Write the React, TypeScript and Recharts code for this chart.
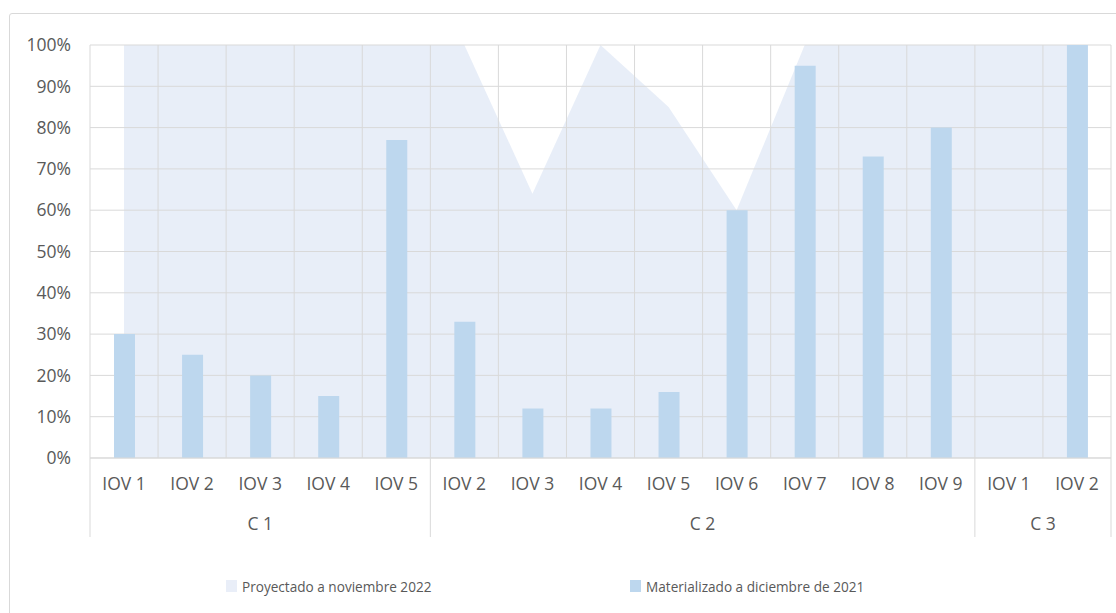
import { ComposedChart, Area, Bar, XAxis, YAxis, CartesianGrid } from "recharts";

const groups = ["C 1", "C 2", "C 3"];
const groupSizes = [5, 8, 2];
const categories = [
  "IOV 1", "IOV 2", "IOV 3", "IOV 4", "IOV 5",
  "IOV 2", "IOV 3", "IOV 4", "IOV 5", "IOV 6", "IOV 7", "IOV 8", "IOV 9",
  "IOV 1", "IOV 2",
];
const projected = [100, 100, 100, 100, 100, 100, 64, 100, 85, 60, 100, 100, 100, 100, 100];
const materialized = [30, 25, 20, 15, 77, 33, 12, 12, 16, 60, 95, 73, 80, 0, 100];
const yTicks = [0, 10, 20, 30, 40, 50, 60, 70, 80, 90, 100];

const projName = "Proyectado a noviembre 2022";
const matName = "Materializado a diciembre de 2021";

const data = categories.map((name, i) => ({
  key: i,
  name,
  proj: projected[i],
  mat: materialized[i],
}));

const n = categories.length;
// first index of each group
const starts = [0];
groupSizes.forEach((s, i) => starts.push(starts[i] + s));

const FONT = "'Open Sans', 'Noto Sans', sans-serif";
const TEXT = "#595959";
const GRID = "#d9d9d9";
const AREA = "#4472c4";
const AREA_SWATCH = "#e9eef8";
const BAR = "#bdd7ee";

const GroupTick = (props: any) => {
  const { x, y, payload, width } = props;
  const i = payload.value;
  const bw = (width || 1021) / n;
  const gi = starts.indexOf(i);
  const items = [];
  if (gi >= 0 && gi < groups.length) {
    items.push(<line key="l" x1={x - bw / 2} x2={x - bw / 2} y1={y - 40} y2={y + 39} stroke={GRID} />);
    items.push(
      <text key="t" x={x + ((groupSizes[gi] - 1) * bw) / 2} y={y + 32} textAnchor="middle" fontSize={17.5} fill={TEXT} fontFamily={FONT}>
        {groups[gi]}
      </text>
    );
  }
  if (i === n - 1) {
    items.push(<line key="r" x1={x + bw / 2} x2={x + bw / 2} y1={y - 40} y2={y + 39} stroke={GRID} />);
  }
  return <g>{items}</g>;
};

const legendItems = [
  { name: projName, color: AREA_SWATCH, left: 226 },
  { name: matName, color: BAR, left: 630 },
];

export default function App() {
  return (
    <div style={{ position: "absolute", left: 0, top: 0, width: 1116, height: 613, overflow: "hidden", background: "#fff" }}>
      <div style={{ position: "absolute", left: 9, top: 13, width: 1130, height: 640, border: `1px solid ${GRID}`, borderRadius: 3 }} />
      <ComposedChart
        width={1116}
        height={613}
        data={data}
        margin={{ top: 45, right: 5, left: 30, bottom: 75 }}
        style={{ position: "absolute", left: 0, top: 0 }}
      >
        <CartesianGrid
          xAxisId="cat"
          stroke={GRID}
          zIndex={200}
          verticalCoordinatesGenerator={({ offset }: any) =>
            Array.from({ length: n + 1 }, (_, i) => offset.left + (i * offset.width) / n)
          }
        />
        <XAxis
          xAxisId="cat"
          dataKey="key"
          tickFormatter={(i: number) => categories[i]}
          tickLine={false}
          axisLine={{ stroke: GRID }}
          tickSize={0}
          tickMargin={20}
          height={40}
          interval={0}
          tick={{ fontSize: 17.5, fill: TEXT, fontFamily: FONT }}
        />
        <XAxis
          xAxisId="grp"
          dataKey="key"
          tick={<GroupTick />}
          tickLine={false}
          axisLine={false}
          tickSize={0}
          tickMargin={0}
          height={40}
          interval={0}
        />
        <YAxis
          domain={[0, 100]}
          ticks={yTicks}
          tickFormatter={(v: number) => `${v}%`}
          axisLine={false}
          tickLine={false}
          tickSize={0}
          tickMargin={19}
          width={60}
          tick={{ fontSize: 17.5, fill: TEXT, fontFamily: FONT }}
        />
        <Area
          xAxisId="cat"
          type="linear"
          dataKey="proj"
          name={projName}
          fill={AREA}
          fillOpacity={0.12}
          stroke="none"
          isAnimationActive={false}
        />
        <Bar xAxisId="cat" dataKey="mat" name={matName} fill={BAR} barSize={21} isAnimationActive={false} />
      </ComposedChart>
      {legendItems.map((it) => (
        <div
          key={it.name}
          style={{
            position: "absolute",
            left: it.left,
            top: 575,
            display: "flex",
            alignItems: "center",
            fontFamily: FONT,
            fontSize: 13.6,
            color: TEXT,
            height: 22,
          }}
        >
          <span style={{ width: 11, height: 12, background: it.color, marginRight: 5, display: "inline-block" }} />
          <span>{it.name}</span>
        </div>
      ))}
    </div>
  );
}
